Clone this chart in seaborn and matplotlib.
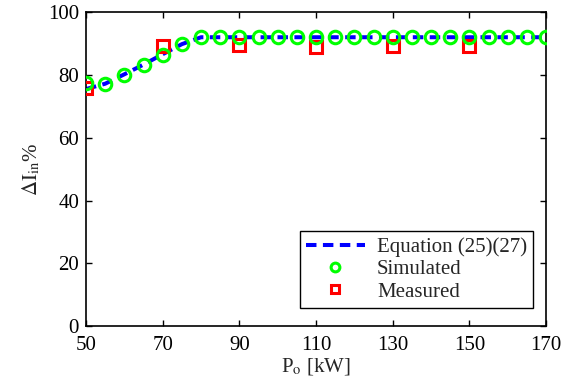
import matplotlib
matplotlib.use("Agg")
import matplotlib.pyplot as plt
import seaborn as sns
import numpy as np

sns.set_style("ticks")
plt.rcParams['font.family'] = ['Liberation Serif', 'DejaVu Serif']
plt.rcParams['mathtext.fontset'] = 'stix'

# Data
eq_x = [50, 55, 60, 65, 70, 75, 80, 85, 90, 95, 100, 105, 110, 115, 120, 125, 130, 135, 140, 145, 150, 155, 160, 165, 170]
eq_y = [75.5, 77.2, 80.2, 83.3, 86.6, 89.8, 92.0, 92.0, 92.0, 92.0, 92.0, 92.0, 92.0, 92.0, 92.0, 92.0, 92.0, 92.0, 92.0, 92.0, 92.0, 92.0, 92.0, 92.0, 92.0]
sim_x = [50, 55, 60, 65, 70, 75, 80, 85, 90, 95, 100, 105, 110, 115, 120, 125, 130, 135, 140, 145, 150, 155, 160, 165, 170]
sim_y = [77.5, 77.0, 80.0, 83.3, 86.5, 90.0, 92.0, 92.0, 92.0, 92.0, 92.0, 92.0, 92.0, 92.0, 92.0, 92.0, 92.0, 92.0, 92.0, 92.0, 92.0, 92.0, 92.0, 92.0, 92.0]
meas_x = [50, 70, 90, 110, 130, 150]
meas_y = [75.8, 89.2, 89.6, 88.8, 89.2, 89.2]

xticks = [50, 70, 90, 110, 130, 150, 170]
yticks = [0, 20, 40, 60, 80, 100]

FS = 15

fig = plt.figure(figsize=(5.66, 3.91), dpi=100)
ax = fig.add_axes([0.152, 0.166, 0.813, 0.803])

sns.lineplot(x=eq_x, y=eq_y, ax=ax, color='#0000ff', linestyle=(0, (2.6, 1.6)),
             linewidth=2.9, label='Equation (25)(27)', zorder=2)
sns.lineplot(x=meas_x, y=meas_y, ax=ax, color='red', linestyle='', marker='s',
             markersize=8.5, markerfacecolor='none', markeredgecolor='red',
             markeredgewidth=2.2, label='Measured', zorder=3)
sns.lineplot(x=sim_x, y=sim_y, ax=ax, color='#00ff00', linestyle='', marker='o',
             markersize=9, markerfacecolor='none', markeredgecolor='#00ff00',
             markeredgewidth=2.2, label='Simulated', zorder=4)

ax.set_xlim(50, 170)
ax.set_ylim(0, 100)
ax.set_xticks(xticks)
ax.set_yticks(yticks)
ax.tick_params(direction='in', top=True, right=True, labelsize=FS, length=4, width=1, colors='black')
ax.tick_params(axis='x', pad=7)
ax.tick_params(axis='y', pad=5)
for s in ax.spines.values():
    s.set_visible(True)
    s.set_linewidth(1.2)
    s.set_color('black')

ax.set_xlabel(r'P$_\mathrm{o}$ [kW]', fontsize=FS, labelpad=1)
ax.set_ylabel(r'$\Delta\mathrm{I}_\mathrm{in}$%', fontsize=FS, labelpad=4)

handles, labels = ax.get_legend_handles_labels()
order = [labels.index('Equation (25)(27)'), labels.index('Simulated'), labels.index('Measured')]
leg = ax.legend([handles[i] for i in order], [labels[i] for i in order],
                loc='lower right', fontsize=FS, frameon=True, fancybox=False,
                edgecolor='black', framealpha=1, borderpad=0.3, labelspacing=0.12,
                handlelength=2.8, handletextpad=0.6, markerscale=0.7,
                bbox_to_anchor=(0.995, 0.025))
leg.get_frame().set_linewidth(1.0)

fig.savefig('out.png', dpi=100)
